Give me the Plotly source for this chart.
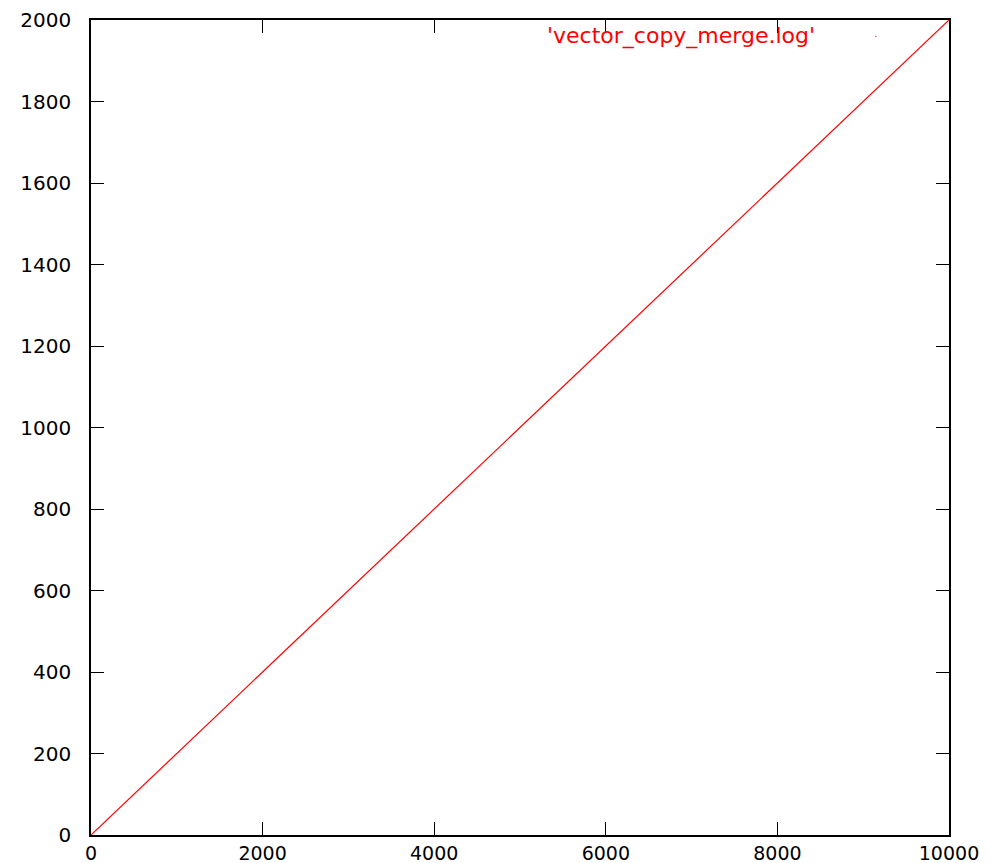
import plotly.graph_objects as go

# data
x_vals = [0, 2000, 4000, 6000, 8000, 10000]
y_vals = [0, 400, 800, 1200, 1600, 2000]
series_name = "'vector_copy_merge.log'"
x_ticks = [0, 2000, 4000, 6000, 8000, 10000]
y_ticks = [0, 200, 400, 600, 800, 1000, 1200, 1400, 1600, 1800, 2000]

fig = go.Figure()
fig.add_trace(go.Scatter(x=x_vals, y=y_vals, mode="lines",
                         line=dict(color="#ff0000", width=1.2),
                         name=series_name, showlegend=False))

axis_common = dict(showline=True, linecolor="black", linewidth=1.5,
                   mirror="allticks", ticks="inside", ticklen=13,
                   tickwidth=1.2, tickcolor="black", showgrid=False,
                   zeroline=False, automargin=False)

fig.update_xaxes(range=[0, 10000], tickvals=x_ticks,
                 ticktext=[str(v) for v in x_ticks], ticklabelstandoff=0,
                 tickfont=dict(family="DejaVu Sans", size=19, color="black"),
                 **axis_common)
fig.update_yaxes(range=[0, 2000], tickvals=y_ticks,
                 ticktext=[str(v) for v in y_ticks], ticklabelstandoff=14,
                 tickfont=dict(family="DejaVu Sans", size=20, color="black"),
                 **axis_common)

fig.add_annotation(xref="paper", yref="paper", x=0.846, y=0.98,
                   xanchor="right", yanchor="middle", showarrow=False,
                   text=series_name,
                   font=dict(family="DejaVu Sans", size=22, color="#ff0000"))
fig.add_shape(type="line", xref="paper", yref="paper",
              x0=0.914, x1=0.9155, y0=0.98, y1=0.98,
              line=dict(color="#ff0000", width=1))

fig.update_layout(width=993, height=863, paper_bgcolor="white",
                  plot_bgcolor="white",
                  margin=dict(l=91, r=44, t=20, b=28))

fig.write_html("out.html", config={"displayModeBar": False},
               post_script="document.body.style.margin='0';document.body.style.overflow='hidden';")
